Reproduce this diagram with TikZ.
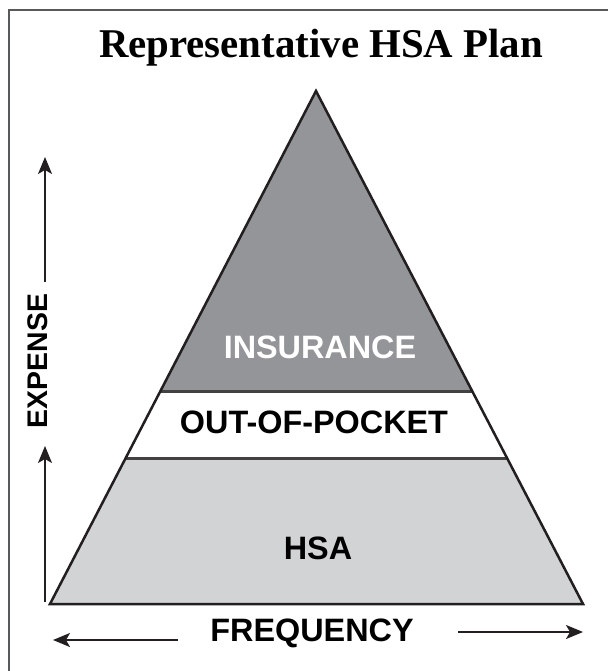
\documentclass[tikz,border=0pt]{standalone}
\usepackage{fontspec}
\setmainfont{Liberation Serif}
\setsansfont{Liberation Sans}
\usetikzlibrary{arrows.meta,calc}
\definecolor{insgray}{HTML}{939598}
\definecolor{hsagray}{HTML}{D1D3D4}
\definecolor{inkblack}{HTML}{231F20}
\definecolor{framegray}{HTML}{58595B}

\begin{document}
\begin{tikzpicture}[x=1bp,y=-1bp,
	tier/.style={
		font=\sffamily\bfseries\fontsize{32.5}{36}\selectfont,
		inner sep=0pt
	},
	axisarrow/.style={
		line width=1.6bp, inkblack,
		-{Stealth[length=17bp,width=14bp,inset=4bp]}
	},
	divider/.style={line width=3bp, inkblack!85}
]
\useasboundingbox (0,0) rectangle (608,671);
\draw[framegray, line width=1.5bp] (9,671) -- (9,10) -- (608,10);

% pyramid corners
\coordinate (apex) at (316,91);
\coordinate (baseL) at (50,604);
\coordinate (baseR) at (583,604);
\coordinate (insL) at ($(apex)!0.5867!(baseL)$);
\coordinate (insR) at ($(apex)!0.5867!(baseR)$);
\coordinate (oopL) at ($(apex)!0.7173!(baseL)$);
\coordinate (oopR) at ($(apex)!0.7173!(baseR)$);

% tiers
\fill[insgray] (apex) -- (insR) -- (insL) -- cycle;
\fill[white] (insL) -- (insR) -- (oopR) -- (oopL) -- cycle;
\fill[hsagray] (oopL) -- (oopR) -- (baseR) -- (baseL) -- cycle;
\draw[divider] (insL) -- (insR);
\draw[divider] (oopL) -- (oopR);
\draw[line width=2.5bp, inkblack, line join=miter] (apex) -- (baseR) -- (baseL) -- cycle;

% labels
\node[font=\bfseries\fontsize{41}{46}\selectfont, inner sep=0pt, anchor=base] (title) at (321,58) {Representative HSA Plan};
\node[tier, text=white] (insurance) at (320,347) {INSURANCE};
\node[tier] (oop) at (314,422) {OUT-OF-POCKET};
\node[tier] (hsa) at (318,548) {HSA};
\node[tier] (frequency) at (312,633) {FREQUENCY};
\node[tier, font=\sffamily\bfseries\fontsize{28.5}{32}\selectfont, rotate=90] (expense) at (38,361) {EXPENSE};

% axes
\coordinate (leftEnd) at (53,640);
\coordinate (rightEnd) at (583,632);
\coordinate (topEnd) at (45,157);
\coordinate (midEnd) at (45,446);
\coordinate (baseEnd) at (45,602);
\draw[axisarrow] (45,282) -- (topEnd);
\draw[axisarrow] (baseEnd) -- (midEnd);
\draw[axisarrow] (178,640) -- (leftEnd);
\draw[axisarrow] (458,632) -- (rightEnd);
\end{tikzpicture}
\end{document}
